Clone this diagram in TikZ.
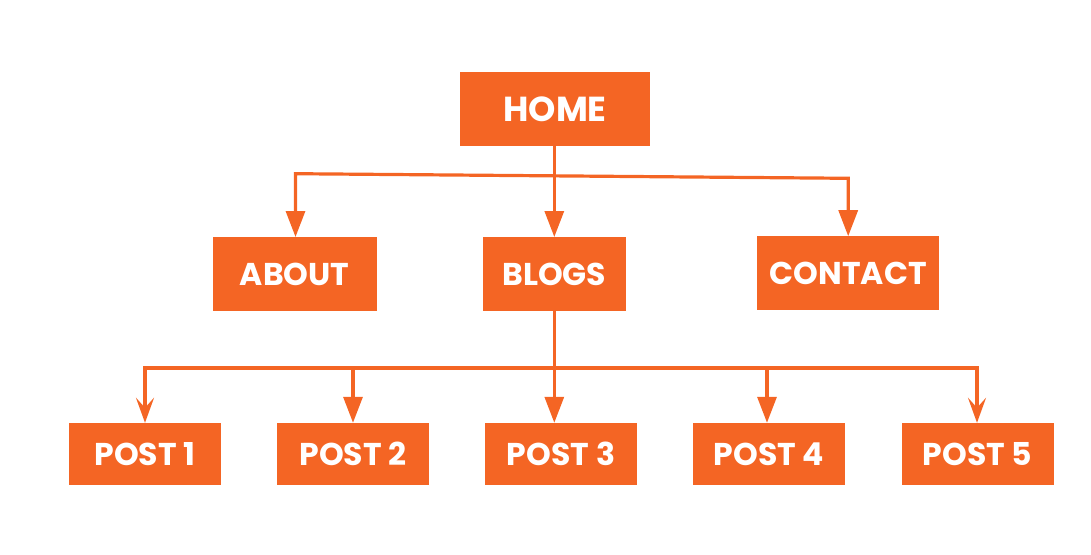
\documentclass[tikz,border=0pt]{standalone}
\usepackage{fontspec}
\setmainfont{Poppins}
\usetikzlibrary{arrows.meta}
\definecolor{brand}{HTML}{F46524}
\tikzset{
  pagebox/.style={fill=brand, text=white, inner sep=0pt, font=\bfseries\fontsize{31.5}{34}\selectfont, minimum height=74pt},
  postbox/.style={pagebox, minimum width=152pt, minimum height=62pt},
  link/.style={draw=brand, line width=3.2pt, line join=miter},
  tri/.tip={Triangle[length=26pt,width=19pt]},
  barb/.tip={Stealth[length=25pt,width=18pt,inset=10pt]}
}
\begin{document}
\begin{tikzpicture}[x=1pt,y=-1pt]
\useasboundingbox (0,0) rectangle (1091,554);
\node[pagebox, minimum width=190pt, font=\bfseries\fontsize{34.7}{38}\selectfont] (home) at (555,109) {HOME};
\node[pagebox, minimum width=164pt] (about) at (294.7,274.2) {ABOUT};
\node[pagebox, minimum width=143.5pt] (blogs) at (554.3,274.2) {BLOGS};
\node[pagebox, minimum width=181.7pt] (contact) at (848.2,273.4) {CONTACT};
\node[postbox] (p1) at (145,454) {POST 1};
\node[postbox] (p2) at (353,454) {POST 2};
\node[postbox] (p3) at (561,454) {POST 3};
\node[postbox] (p4) at (769,454) {POST 4};
\node[postbox] (p5) at (977.5,454) {POST 5};
\coordinate (busL) at (295.5,173.7);
\coordinate (busR) at (848.2,178.3);
\coordinate (bbL) at (145,368);
\coordinate (bbR) at (977,368);
\coordinate (bb2) at (353,368);
\coordinate (bb4) at (767,368);
\draw[link, -tri] (home.south -| blogs.north) -- (blogs.north);
\draw[link, tri-tri] (busL |- about.north) -- (busL) -- (busR) -- (contact.north);
\draw[link, -tri] (blogs.south) -- (blogs.south |- p3.north);
\draw[link, barb-barb] (bbL |- p1.north) -- (bbL) -- (bbR) -- (bbR |- p5.north);
\draw[link, -tri] (bb2) -- (bb2 |- p2.north);
\draw[link, -tri] (bb4) -- (bb4 |- p4.north);
\end{tikzpicture}
\end{document}
